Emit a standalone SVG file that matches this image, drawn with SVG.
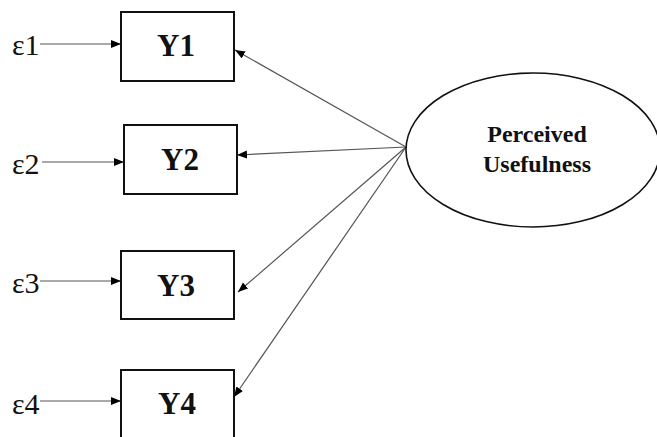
<svg xmlns="http://www.w3.org/2000/svg" width="657" height="437" viewBox="0 0 657 437">
<defs>
<marker id="ah" markerUnits="userSpaceOnUse" markerWidth="11" markerHeight="9" refX="10" refY="4" orient="auto">
<path d="M0,0 L10,4 L0,8 z" fill="#000"/>
</marker>
<style>
.box{fill:#fff;stroke:#111;stroke-width:2}
.lat{fill:#fff;stroke:#111;stroke-width:1.6}
.lbl{font-family:"Liberation Serif","Times New Roman",serif;font-weight:bold;font-size:31px;fill:#111;text-anchor:middle}
.lt{font-family:"Liberation Serif","Times New Roman",serif;font-weight:bold;font-size:24px;fill:#111;text-anchor:middle}
.err{font-family:"Liberation Serif","Times New Roman",serif;font-size:30px;fill:#111}
.c{stroke:#555;stroke-width:1.2;fill:none;marker-end:url(#ah)}
</style>
</defs>
<rect width="657" height="437" fill="#fff"/>
<g id="connectors">
<line class="c" x1="40" y1="44" x2="121" y2="44"/>
<line class="c" x1="42" y1="162" x2="124" y2="162"/>
<line class="c" x1="40" y1="281" x2="121" y2="281"/>
<line class="c" x1="40" y1="401" x2="121" y2="401"/>
<line class="c" x1="406" y1="147" x2="235" y2="50"/>
<line class="c" x1="406" y1="147" x2="237" y2="155"/>
<line class="c" x1="406" y1="147" x2="238" y2="292"/>
<line class="c" x1="406" y1="147" x2="234" y2="397"/>
</g>
<g id="e1"><text class="err" x="12" y="55">ε1</text></g>
<g id="e2"><text class="err" x="12" y="174">ε2</text></g>
<g id="e3"><text class="err" x="12" y="293">ε3</text></g>
<g id="e4"><text class="err" x="12" y="414">ε4</text></g>
<g id="Y1"><rect class="box" x="121" y="12" width="113" height="69"/><text class="lbl" x="176" y="56">Y1</text></g>
<g id="Y2"><rect class="box" x="124" y="125" width="113" height="69"/><text class="lbl" x="180" y="170">Y2</text></g>
<g id="Y3"><rect class="box" x="121" y="251" width="113" height="68"/><text class="lbl" x="176" y="296">Y3</text></g>
<g id="Y4"><rect class="box" x="121" y="370" width="113" height="69"/><text class="lbl" x="177" y="414">Y4</text></g>
<g id="PU"><ellipse class="lat" cx="533" cy="150" rx="127" ry="77"/><text class="lt" x="537" y="142">Perceived</text><text class="lt" x="537" y="172">Usefulness</text></g>
</svg>
